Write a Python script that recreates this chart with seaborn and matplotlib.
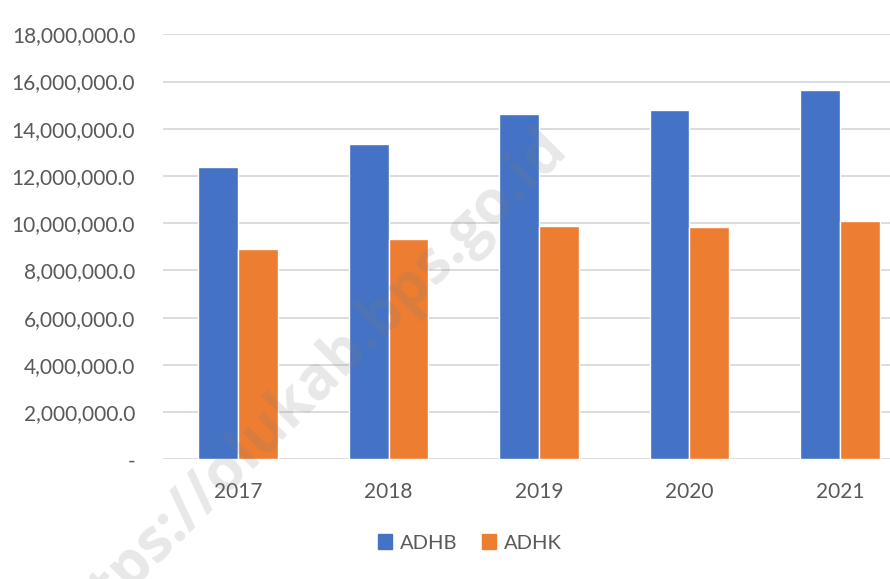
import pandas as pd
import seaborn as sns
import matplotlib.pyplot as plt
from matplotlib.ticker import FuncFormatter

# values
years = ["2017", "2018", "2019", "2020", "2021"]
adhb = [12370000, 13360000, 14630000, 14800000, 15650000]
adhk = [8900000, 9320000, 9860000, 9850000, 10100000]
series = ["ADHB", "ADHK"]
colors = ["#4472C4", "#ED7D31"]

df = pd.DataFrame({"year": years * 2,
                   "value": adhb + adhk,
                   "series": [series[0]] * len(years) + [series[1]] * len(years)})

sns.set_style("white")
plt.rcParams["font.family"] = ["Lato", "DejaVu Sans"]

fig = plt.figure(figsize=(8.9, 5.79), dpi=100)
ax = fig.add_axes([163 / 890, 1 - 459.3 / 579, 752 / 890, 425 / 579])

sns.barplot(data=df, x="year", y="value", hue="series", palette=colors,
            width=0.53, saturation=1, ax=ax, legend=False, zorder=2)

ax.set_ylim(0, 18000000)
ax.set_yticks(range(0, 18000001, 2000000))
ax.yaxis.set_major_formatter(FuncFormatter(lambda v, p: "-" if v == 0 else f"{v:,.1f}"))
ax.grid(axis="y", color="#d9d9d9", linewidth=1.3, zorder=0)
ax.set_axisbelow(True)
for s in ax.spines.values():
    s.set_visible(False)
ax.tick_params(axis="y", length=0, pad=20, labelsize=15, labelcolor="#595959")
ax.tick_params(axis="x", length=0, pad=16, labelsize=15, labelcolor="#595959")
ax.set_xlabel("")
ax.set_ylabel("")

handles = [plt.Rectangle((0, 0), 1, 1, color=c) for c in colors]
fig.legend(handles, series, loc="center", bbox_to_anchor=(470 / 890, 1 - 543 / 579),
           ncol=2, frameon=False, fontsize=14.5, labelcolor="#595959",
           handlelength=0.7, handleheight=0.7, handletextpad=0.4, columnspacing=1.2)

# faint diagonal watermark
fig.text(568 / 890, 1 - 150 / 579, "https://olukab.bps.go.id", rotation=45,
         rotation_mode="anchor", ha="right", va="baseline", fontsize=43,
         fontweight="bold", color="#808080", alpha=0.18,
         family=["Open Sans", "DejaVu Sans"])

fig.savefig("out.png", dpi=100)
